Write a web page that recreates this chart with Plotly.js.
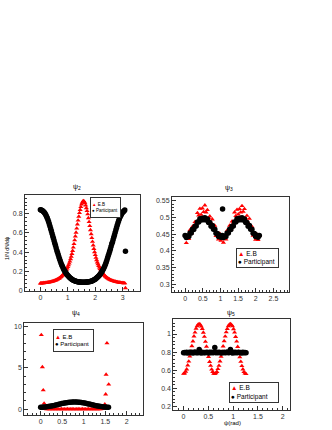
<!DOCTYPE html>
<html>
<head>
<meta charset="utf-8">
<script src="https://cdn.plot.ly/plotly-3.0.1.min.js"></script>
<style>html,body{margin:0;padding:0;background:#fff;}#chart{width:332px;height:430px;}</style>
</head>
<body>
<div id="chart"></div>
<script>
// ---------- Data ----------
// Panel psi_2
var psi2X = [0,0.025,0.05,0.075,0.1,0.125,0.15,0.175,0.2,0.225,0.25,0.275,0.3,0.325,0.35,0.375,0.4,0.425,0.45,0.475,0.5,0.525,0.55,0.575,0.6,0.625,0.65,0.675,0.7,0.725,0.75,0.775,0.8,0.825,0.85,0.875,0.9,0.925,0.95,0.975,1,1.025,1.05,1.075,1.1,1.125,1.15,1.175,1.2,1.225,1.25,1.275,1.3,1.325,1.35,1.375,1.4,1.425,1.45,1.475,1.5,1.525,1.55,1.575,1.6,1.625,1.65,1.675,1.7,1.725,1.75,1.775,1.8,1.825,1.85,1.875,1.9,1.925,1.95,1.975,2,2.025,2.05,2.075,2.1,2.125,2.15,2.175,2.2,2.225,2.25,2.275,2.3,2.325,2.35,2.375,2.4,2.425,2.45,2.475,2.5,2.525,2.55,2.575,2.6,2.625,2.65,2.675,2.7,2.725,2.75,2.775,2.8,2.825,2.85,2.875,2.9,2.925,2.95,2.975,3,3.025,3.05,3.075,3.1];
var psi2EB = [0.08,0.08,0.081,0.081,0.082,0.082,0.083,0.084,0.085,0.086,0.087,0.088,0.09,0.091,0.093,0.094,0.096,0.098,0.1,0.102,0.105,0.107,0.11,0.113,0.117,0.121,0.125,0.129,0.134,0.14,0.146,0.153,0.16,0.168,0.177,0.187,0.197,0.209,0.222,0.235,0.25,0.267,0.285,0.306,0.33,0.356,0.385,0.416,0.45,0.487,0.525,0.565,0.605,0.647,0.69,0.73,0.77,0.807,0.84,0.87,0.895,0.915,0.928,0.932,0.924,0.91,0.885,0.858,0.828,0.794,0.754,0.714,0.673,0.63,0.589,0.549,0.51,0.472,0.436,0.403,0.373,0.345,0.32,0.297,0.278,0.26,0.244,0.23,0.217,0.204,0.193,0.183,0.173,0.165,0.157,0.15,0.143,0.137,0.132,0.127,0.123,0.119,0.115,0.112,0.109,0.106,0.104,0.101,0.099,0.097,0.095,0.094,0.092,0.091,0.089,0.088,0.087,0.086,0.084,0.083,0.083,0.082,0.081,0.081,0.03];
var psi2Part = [0.84,0.838,0.835,0.83,0.825,0.818,0.81,0.798,0.785,0.771,0.755,0.736,0.715,0.693,0.67,0.645,0.62,0.595,0.57,0.545,0.52,0.495,0.47,0.445,0.42,0.397,0.375,0.352,0.33,0.31,0.29,0.272,0.255,0.24,0.225,0.212,0.2,0.189,0.178,0.169,0.16,0.152,0.145,0.138,0.132,0.126,0.12,0.116,0.112,0.108,0.105,0.102,0.1,0.098,0.096,0.095,0.094,0.093,0.092,0.091,0.091,0.091,0.091,0.091,0.091,0.091,0.091,0.092,0.093,0.094,0.095,0.096,0.097,0.099,0.101,0.103,0.106,0.11,0.114,0.118,0.122,0.128,0.135,0.141,0.148,0.156,0.164,0.173,0.182,0.193,0.205,0.217,0.231,0.246,0.262,0.28,0.3,0.32,0.343,0.366,0.388,0.41,0.435,0.46,0.485,0.505,0.53,0.555,0.58,0.605,0.63,0.655,0.68,0.702,0.724,0.744,0.763,0.777,0.79,0.803,0.814,0.822,0.828,0.838,0.41];

// Panel psi_3
var psi3X = [0,0.035,0.07,0.105,0.14,0.175,0.21,0.245,0.28,0.315,0.35,0.385,0.42,0.455,0.49,0.525,0.56,0.595,0.63,0.665,0.7,0.735,0.77,0.805,0.84,0.875,0.91,0.945,0.98,1.015,1.05,1.085,1.12,1.155,1.19,1.225,1.26,1.295,1.33,1.365,1.4,1.435,1.47,1.505,1.54,1.575,1.61,1.645,1.68,1.715,1.75,1.785,1.82,1.855,1.89,1.925,1.96,1.995,2.03,2.065,2.1];
var psi3EB = [0.445,0.424,0.443,0.436,0.463,0.453,0.473,0.464,0.487,0.485,0.514,0.507,0.527,0.509,0.528,0.517,0.537,0.516,0.523,0.499,0.504,0.484,0.495,0.472,0.476,0.445,0.453,0.435,0.452,0.431,0.442,0.425,0.441,0.435,0.461,0.455,0.476,0.463,0.489,0.486,0.516,0.505,0.524,0.51,0.526,0.516,0.535,0.518,0.526,0.498,0.506,0.485,0.497,0.47,0.473,0.446,0.451,0.434,0.45,0.433,0.445];
var psi3PartX = psi3X.concat([1.06]);
var psi3Part = [0.446,0.44,0.445,0.443,0.454,0.454,0.465,0.464,0.474,0.475,0.487,0.487,0.497,0.493,0.498,0.494,0.5,0.493,0.496,0.485,0.485,0.474,0.476,0.465,0.465,0.453,0.452,0.443,0.447,0.441,0.446,0.44,0.445,0.443,0.454,0.454,0.465,0.464,0.474,0.475,0.487,0.487,0.497,0.493,0.498,0.494,0.5,0.493,0.496,0.485,0.485,0.474,0.476,0.465,0.465,0.453,0.452,0.443,0.447,0.441,0.446,0.526];

// Panel psi_4
var psi4EBX = [0.015,0.04,0.06,0.08,0.1,0.135,0.17,0.205,0.24,0.275,0.31,0.345,0.38,0.415,0.45,0.485,0.52,0.555,0.59,0.625,0.66,0.695,0.73,0.765,0.8,0.835,0.87,0.905,0.94,0.975,1.01,1.045,1.08,1.115,1.15,1.185,1.22,1.255,1.29,1.325,1.36,1.395,1.43,1.465,1.49,1.51,1.52,1.54,1.58];
var psi4EB = [9.0,5.1,2.3,0.7,0.03,0.01,0.02,0,0.02,0.01,0,0.01,0.02,0.01,0,0.02,0.01,0,0.01,0.02,0,0.01,0.02,0.01,0,0.01,0.02,0,0.01,0.02,0.01,0,0.01,0.02,0.01,0,0.02,0.01,0,0.01,0.02,0.01,0.03,0.04,0.6,1.8,4.2,8.0,3.0];
var psi4PartX = [0,0.035,0.07,0.105,0.14,0.175,0.21,0.245,0.28,0.315,0.35,0.385,0.42,0.455,0.49,0.525,0.56,0.595,0.63,0.665,0.7,0.735,0.77,0.805,0.84,0.875,0.91,0.945,0.98,1.015,1.05,1.085,1.12,1.155,1.19,1.225,1.26,1.295,1.33,1.365,1.4,1.435,1.47,1.505,1.54,1.575];
var psi4Part = [0.25,0.253,0.262,0.277,0.297,0.323,0.353,0.387,0.424,0.465,0.507,0.55,0.594,0.637,0.678,0.716,0.75,0.78,0.812,0.834,0.852,0.864,0.87,0.869,0.863,0.85,0.832,0.809,0.781,0.748,0.712,0.673,0.631,0.589,0.545,0.502,0.46,0.42,0.383,0.349,0.32,0.295,0.275,0.261,0.252,0.25];

// Panel psi_5
var psi5X = [0,0.021,0.042,0.063,0.084,0.105,0.126,0.147,0.168,0.189,0.21,0.231,0.252,0.273,0.294,0.315,0.336,0.357,0.378,0.399,0.42,0.441,0.462,0.483,0.504,0.525,0.546,0.567,0.588,0.609,0.63,0.651,0.672,0.693,0.714,0.735,0.756,0.777,0.798,0.819,0.84,0.861,0.882,0.903,0.924,0.945,0.966,0.987,1.008,1.029,1.05,1.071,1.092,1.113,1.134,1.155,1.176,1.197,1.218,1.239,1.26];
var psi5EB = [0.562,0.566,0.586,0.611,0.654,0.697,0.752,0.806,0.867,0.92,0.975,1.018,1.06,1.086,1.106,1.11,1.104,1.084,1.057,1.016,0.971,0.916,0.861,0.802,0.748,0.693,0.65,0.609,0.583,0.564,0.561,0.567,0.583,0.614,0.651,0.699,0.75,0.808,0.864,0.922,0.973,1.021,1.058,1.088,1.104,1.111,1.102,1.086,1.055,1.018,0.969,0.918,0.859,0.804,0.746,0.695,0.648,0.611,0.581,0.566,0.559];
var psi5Part = [0.792,0.797,0.794,0.799,0.791,0.796,0.8,0.793,0.798,0.79,0.795,0.801,0.794,0.797,0.792,0.83,0.796,0.791,0.799,0.794,0.797,0.792,0.8,0.795,0.79,0.798,0.793,0.799,0.794,0.796,0.85,0.792,0.798,0.793,0.8,0.795,0.791,0.797,0.794,0.799,0.792,0.796,0.801,0.793,0.797,0.83,0.795,0.79,0.798,0.794,0.799,0.792,0.796,0.8,0.793,0.797,0.791,0.798,0.794,0.796,0.792];

var seriesNames = ["E.B", "Participant"];
var panelTitles = ["ψ<sub>2</sub>", "ψ<sub>3</sub>", "ψ<sub>4</sub>", "ψ<sub>5</sub>"];

// ---------- Traces ----------
var RED = "#ff0000", BLK = "#000000";
function eb(x, y, xa, ya, sz) {
  return {x: x, y: y, xaxis: xa, yaxis: ya, type: "scatter", mode: "markers", name: seriesNames[0], showlegend: false,
          marker: {symbol: "triangle-up", size: sz, color: RED, line: {width: 0}}};
}
function part(x, y, xa, ya, sz) {
  return {x: x, y: y, xaxis: xa, yaxis: ya, type: "scatter", mode: "markers", name: seriesNames[1], showlegend: false,
          marker: {symbol: "circle", size: sz, color: BLK, line: {width: 0}}};
}
var data = [
  eb(psi2X, psi2EB, "x", "y", 4.5), part(psi2X, psi2Part, "x", "y", 5.5),
  eb(psi3X, psi3EB, "x2", "y2", 4.5), part(psi3PartX, psi3Part, "x2", "y2", 5.5),
  eb(psi4EBX, psi4EB, "x3", "y3", 4.5), part(psi4PartX, psi4Part, "x3", "y3", 5.5),
  eb(psi5X, psi5EB, "x4", "y4", 4.5), part(psi5X, psi5Part, "x4", "y4", 5.5)
];

// ---------- Layout ----------
var W = 332, H = 430;
function px(v) { return v / W; }
function py(v) { return (H - v) / H; }
var FONT = "Liberation Sans, Arial, sans-serif";
function ax(domain, range, dtick, minorDtick, anchor) {
  return {domain: domain, range: range, anchor: anchor, dtick: dtick, tick0: 0, tickmode: "linear",
          ticks: "inside", ticklen: 4, tickwidth: 1, tickcolor: "#333",
          minor: {dtick: minorDtick, tick0: 0, ticks: "inside", ticklen: 2, tickcolor: "#333", showgrid: false},
          showline: true, mirror: true, linecolor: "#333", linewidth: 1,
          showgrid: false, zeroline: false, fixedrange: true,
          tickfont: {family: FONT, size: 7, color: "#333"}};
}
var layout = {
  width: W, height: H, margin: {l: 0, r: 0, t: 0, b: 0},
  paper_bgcolor: "#fff", plot_bgcolor: "#fff", showlegend: false,
  font: {family: FONT, color: "#000"},
  xaxis:  ax([px(25), px(140)], [-0.56, 3.63], 1, 0.2, "y"),
  yaxis:  ax([py(291), py(194.5)], [0, 0.998], 0.2, 0.04, "x"),
  xaxis2: ax([px(172), px(289)], [-0.37, 2.94], 0.5, 0.1, "y2"),
  yaxis2: ax([py(291.5), py(197)], [0.278, 0.562], 0.05, 0.01, "x2"),
  xaxis3: ax([px(24.3), px(142.7)], [-0.38, 2.37], 0.5, 0.1, "y3"),
  yaxis3: ax([py(415), py(322.7)], [-0.7, 10.48], 5, 1, "x3"),
  xaxis4: ax([px(173.3), px(290)], [-0.207, 2.147], 0.5, 0.1, "y4"),
  yaxis4: ax([py(410), py(319)], [0.161, 1.166], 0.2, 0.04, "x4"),
  annotations: []
};

// panel titles
var titlePos = [[77, 187], [229, 188], [76, 313], [231, 313]];
titlePos.forEach(function (p, i) {
  layout.annotations.push({text: panelTitles[i], xref: "paper", yref: "paper", x: px(p[0]), y: py(p[1]),
    xanchor: "center", yanchor: "middle", showarrow: false, font: {family: FONT, size: 7, color: "#000"}});
});

// axis titles
layout.annotations.push({text: "1/N dN/dψ", xref: "paper", yref: "paper", x: px(7), y: py(248), textangle: -90,
  xanchor: "center", yanchor: "middle", showarrow: false, font: {family: FONT, size: 5, color: "#000"}});
layout.annotations.push({text: "ψ(rad)", xref: "paper", yref: "paper", x: px(232), y: py(423),
  xanchor: "center", yanchor: "middle", showarrow: false, font: {family: FONT, size: 6, color: "#000"}});

// legend boxes [left, top, width, height, fontsize]
var legBoxes = [[90, 197, 31, 21, 4.5], [236, 248, 43, 20, 6.5], [53, 329, 41, 23, 6], [229, 382, 50, 21, 6.5]];
legBoxes.forEach(function (b) {
  layout.annotations.push({
    text: "<span style='color:" + RED + "'>▲</span> " + seriesNames[0] + "<br>● " + seriesNames[1],
    xref: "paper", yref: "paper", x: px(b[0]), y: py(b[1]), xanchor: "left", yanchor: "top",
    width: b[2] - 4, height: b[3] - 4, align: "left", valign: "middle", showarrow: false,
    bordercolor: "#333", borderwidth: 1, borderpad: 1, bgcolor: "#fff",
    font: {family: FONT, size: b[4], color: "#000"}
  });
});

Plotly.newPlot("chart", data, layout, {staticPlot: true, displayModeBar: false});
</script>
</body>
</html>
